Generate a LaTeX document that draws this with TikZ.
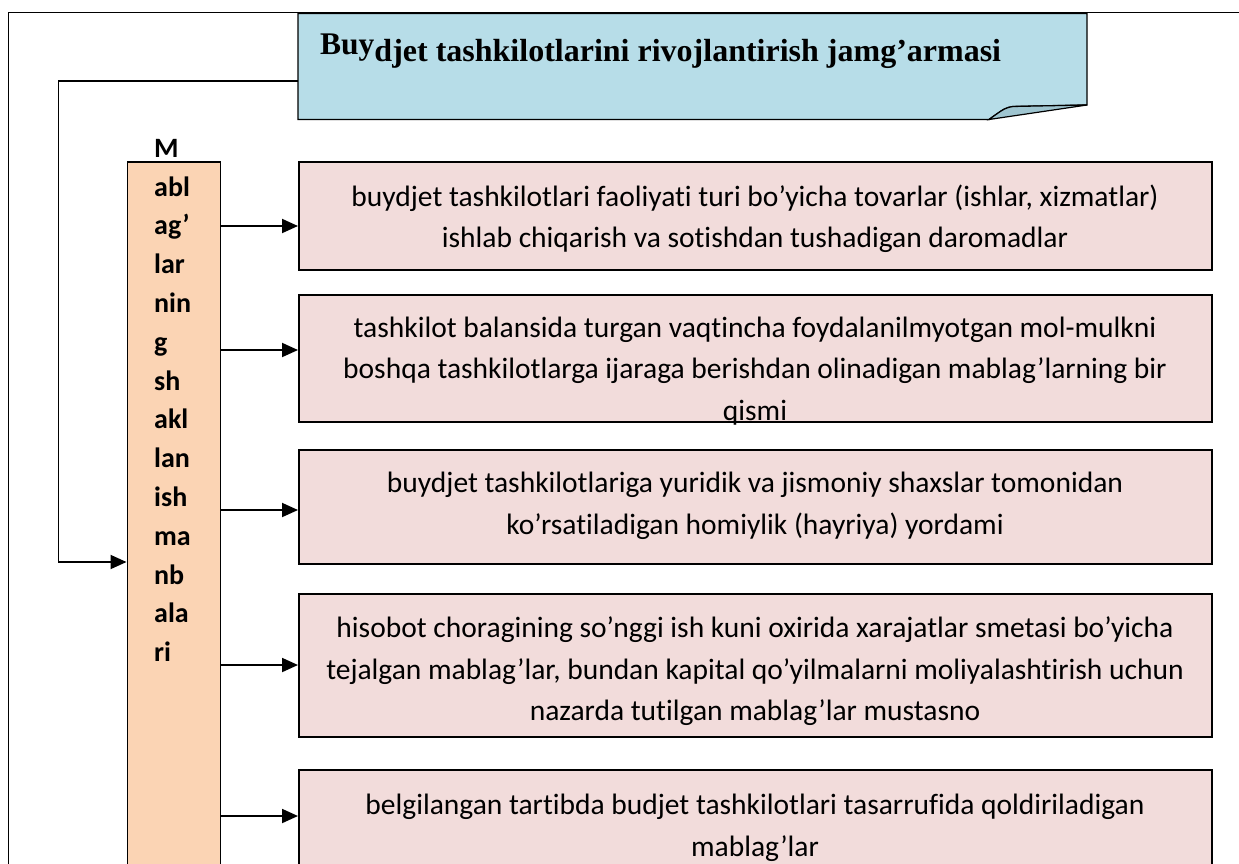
\documentclass[tikz,border=0pt]{standalone}
\usepackage{fontspec}
\setmainfont{Liberation Serif}
\newfontfamily\calfont[Ligatures=NoCommon]{Carlito}
\usetikzlibrary{arrows.meta}
\definecolor{blueboxfill}{HTML}{B7DDE8}
\definecolor{foldfill}{HTML}{9FC5D0}
\definecolor{pinkfill}{HTML}{F2DCDB}
\definecolor{orangefill}{HTML}{FBD4B4}
\tikzset{
  pinkbox/.style={draw=black,line width=1.6pt,fill=pinkfill,rectangle,minimum width=913pt,inner sep=0pt,anchor=north west},
  boxtext/.style={align=center,inner sep=0pt,font=\calfont\fontsize{29.5}{41.5}\selectfont},
  arr/.style={line width=1.9pt,-{Triangle[length=16pt,width=14pt]}},
}
\begin{document}
\begin{tikzpicture}[x=1pt,y=-1pt]
\useasboundingbox (0,0) rectangle (1239,863);
\clip (0,0) rectangle (1239,863);
% outer frame
\draw[line width=1.4pt] (8.5,900) -- (8.5,12.5) -- (1250,12.5);
% title box with folded corner
\node[minimum width=789pt,minimum height=105pt,inner sep=0pt,anchor=north west] (title) at (298,13.5) {};
\filldraw[fill=blueboxfill,draw=black,line width=1.4pt]
  (298,13.5) -- (1087,13.5) -- (1087,105) -- (1013,106.5)
  .. controls (1005,108) .. (989,119.5) -- (298,119.5) -- cycle;
\filldraw[fill=foldfill,draw=black,line width=1.2pt]
  (989,119.5) .. controls (1005,108) .. (1013,106.5) -- (1087,105) -- cycle;
\node[anchor=base west,inner sep=0pt] (titletext) at (320,54.3)
  {\bfseries\fontsize{31.5}{34}\selectfont Buy\raisebox{-7.4pt}{\fontsize{32}{34}\selectfont djet tashkilotlarini rivojlantirish jamg’armasi}};
% orange bar
\node[draw=black,line width=1.6pt,fill=orangefill,rectangle,minimum width=93pt,minimum height=760pt,inner sep=0pt,anchor=north west] (bar) at (126.5,161) {};
\node[anchor=north west,inner sep=0pt,align=left,font=\calfont\bfseries\fontsize{28}{38.8}\selectfont] (bartext) at (154,139)
  {M\\abl\\ag’\\lar\\nin\\g\\sh\\akl\\lan\\ish\\ma\\nb\\ala\\ri};
% pink boxes
\node[pinkbox,minimum height=108pt] (b1) at (298,161) {};
\node[pinkbox,minimum height=127pt] (b2) at (298,294) {};
\node[pinkbox,minimum height=114pt] (b3) at (298,449) {};
\node[pinkbox,minimum height=143pt] (b4) at (298,593) {};
\node[pinkbox,minimum height=140pt] (b5) at (298,769) {};
\node[boxtext] (t1) at (755,218.5) {buydjet tashkilotlari faoliyati turi bo’yicha tovarlar (ishlar, xizmatlar)\\ishlab chiqarish va sotishdan tushadigan daromadlar};
\node[boxtext] (t2) at (755,371) {tashkilot balansida turgan vaqtincha foydalanilmyotgan mol-mulkni\\boshqa tashkilotlarga ijaraga berishdan olinadigan mablag’larning bir\\qismi};
\node[boxtext] (t3) at (755,506) {buydjet tashkilotlariga yuridik va jismoniy shaxslar tomonidan\\ko’rsatiladigan homiylik (hayriya) yordami};
\node[boxtext] (t4) at (755,671.5) {hisobot choragining so’nggi ish kuni oxirida xarajatlar smetasi bo’yicha\\tejalgan mablag’lar, bundan kapital qo’yilmalarni moliyalashtirish uchun\\nazarda tutilgan mablag’lar mustasno};
\node[boxtext] (t5) at (755,828) {belgilangan tartibda budjet tashkilotlari tasarrufida qoldiriladigan\\mablag’lar};
% connectors
\draw[arr] (298,80.7) -- (58.5,80.7) |- (bar.west |- 0,562);
\draw[arr] (bar.east |- 0,226) -- (b1.west |- 0,226);
\draw[arr] (bar.east |- 0,350) -- (b2.west |- 0,350);
\draw[arr] (bar.east |- 0,510) -- (b3.west |- 0,510);
\draw[arr] (bar.east |- 0,665) -- (b4.west |- 0,665);
\draw[arr] (bar.east |- 0,816) -- (b5.west |- 0,816);
\end{tikzpicture}
\end{document}
